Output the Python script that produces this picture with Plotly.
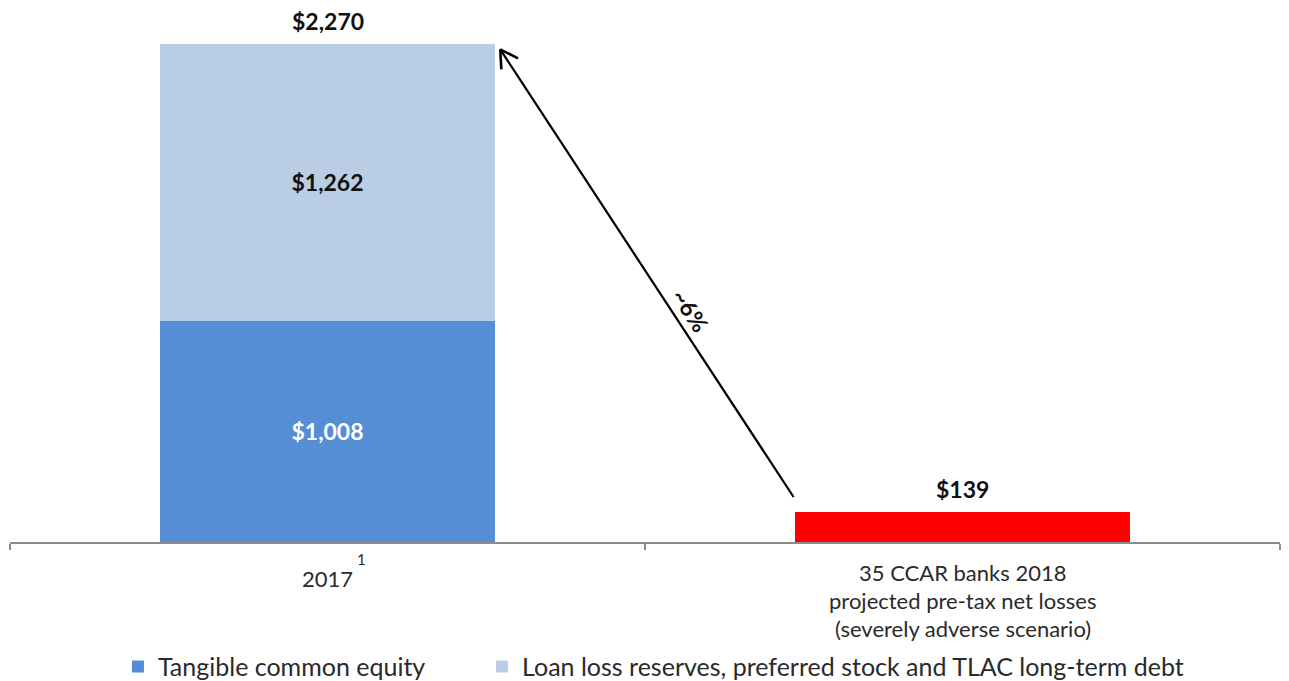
import math
import plotly.graph_objects as go

# Categories and their axis label lines
categories = ["2017", "35 CCAR banks 2018 projected pre-tax net losses"]
category_lines = [
    ["2017"],
    ["35 CCAR banks 2018", "projected pre-tax net losses", "(severely adverse scenario)"],
]
footnote_marks = ["1", ""]

# Series values ($ billions)
tangible_equity = [1008, None]
reserves_pref_tlac = [1262, None]
projected_losses = [None, 139]
totals = [2270, 139]
ratio_label = "~6%"

FONT = "Lato"
DARK_BLUE = "#558ED5"
LIGHT_BLUE = "#B9CDE5"
RED = "#FF0000"
TEXT = "#2a2a2a"

W, H = 1289, 681
M_L, M_R, M_T, M_B = 10, 9, 20, 139
Y_MAX = 2379


def fmt(v):
    return f"${v:,}"


fig = go.Figure()

fig.add_trace(go.Bar(
    x=categories, y=tangible_equity, name="Tangible common equity",
    legend="legend",
    marker=dict(color=DARK_BLUE, line=dict(width=0)),
    text=[fmt(v) if v else "" for v in tangible_equity],
    textposition="inside", insidetextanchor="middle",
    textfont=dict(family=FONT, size=23, color="white", weight="bold"),
))
fig.add_trace(go.Bar(
    x=categories, y=reserves_pref_tlac,
    name="Loan loss reserves, preferred stock and TLAC long-term debt",
    legend="legend2",
    marker=dict(color=LIGHT_BLUE, line=dict(width=0)),
    text=[fmt(v) if v else "" for v in reserves_pref_tlac],
    textposition="inside", insidetextanchor="middle",
    textfont=dict(family=FONT, size=23, color="#111111", weight="bold"),
))
fig.add_trace(go.Bar(
    x=categories, y=projected_losses, name="Projected losses", showlegend=False,
    marker=dict(color=RED, line=dict(width=0)),
))

# Total labels above each column (category axis positions by index)
for i, tot in enumerate(totals):
    fig.add_annotation(
        x=i, y=tot, xref="x", yref="y", yanchor="middle", yshift=23,
        showarrow=False, text=fmt(tot),
        font=dict(family=FONT, size=23, color="#111111", weight="bold"),
    )

# Category labels below the axis, one line at a time
for i, lines in enumerate(category_lines):
    if len(lines) == 1:
        fig.add_annotation(
            x=i, y=0, xref="x", yref="y", yanchor="middle", yshift=-36,
            showarrow=False, text=lines[0],
            font=dict(family=FONT, size=22, color=TEXT),
        )
    else:
        for j, line in enumerate(lines):
            fig.add_annotation(
                x=i, y=0, xref="x", yref="y", yanchor="middle", yshift=-30 - 28 * j,
                showarrow=False, text=line,
                font=dict(family=FONT, size=22, color=TEXT),
            )
    if footnote_marks[i]:
        fig.add_annotation(
            x=i, y=0, xref="x", yref="y", yanchor="middle", yshift=-17, xshift=34,
            showarrow=False, text=footnote_marks[i],
            font=dict(family=FONT, size=15, color=TEXT),
        )

# Arrow from the projected losses up to the 2017 total
tip = (0.272, totals[0] - 25)
tail = (0.734, projected_losses[1] + 66)

plot_w = W - M_L - M_R
plot_h = H - M_T - M_B
px_per_cat = plot_w / 2.0
px_per_unit = plot_h / Y_MAX


def to_px(x, y):
    return M_L + (x + 0.5) * px_per_cat, H - M_B - y * px_per_unit


def to_data(px, py):
    return (px - M_L) / px_per_cat - 0.5, (H - M_B - py) / px_per_unit


fig.add_shape(type="line", xref="x", yref="y",
              x0=tail[0], y0=tail[1], x1=tip[0], y1=tip[1],
              line=dict(color="black", width=2.2))

# Open chevron head
tx, ty = to_px(*tip)
sx, sy = to_px(*tail)
L = math.hypot(sx - tx, sy - ty)
ux, uy = (sx - tx) / L, (sy - ty) / L
for sign in (1, -1):
    a = math.radians(30 * sign)
    hx = ux * math.cos(a) - uy * math.sin(a)
    hy = ux * math.sin(a) + uy * math.cos(a)
    ex, ey = to_data(tx + 20 * hx, ty + 20 * hy)
    fig.add_shape(type="line", xref="x", yref="y",
                  x0=tip[0], y0=tip[1], x1=ex, y1=ey,
                  line=dict(color="black", width=2.6))

fig.add_annotation(
    x=0.573, y=1055, xref="x", yref="y", showarrow=False,
    text=ratio_label, textangle=57,
    font=dict(family=FONT, size=23, color="#111111", weight="bold"),
)

legend_common = dict(
    orientation="h", xref="container", yref="container",
    xanchor="left", y=0.021, yanchor="middle",
    font=dict(family=FONT, size=25, color=TEXT),
    itemwidth=30, bgcolor="rgba(0,0,0,0)",
)

fig.update_layout(
    barmode="stack",
    bargap=0.473,
    width=W, height=H,
    margin=dict(l=M_L, r=M_R, t=M_T, b=M_B, autoexpand=False),
    paper_bgcolor="white", plot_bgcolor="white",
    font=dict(family=FONT, size=22, color=TEXT),
    showlegend=True,
    legend=dict(x=0.0915, **legend_common),
    legend2=dict(x=0.374, **legend_common),
    xaxis=dict(
        type="category", range=[-0.5, 1.5], automargin=False,
        showline=True, linecolor="#8C8C8C", linewidth=2,
        ticks="outside", tickson="boundaries", ticklen=6, tickcolor="#8C8C8C", tickwidth=2,
        showticklabels=False, showgrid=False, zeroline=False,
    ),
    yaxis=dict(
        range=[0, Y_MAX], visible=False, showgrid=False, zeroline=False,
        automargin=False,
    ),
)

fig.write_html("out.html")
